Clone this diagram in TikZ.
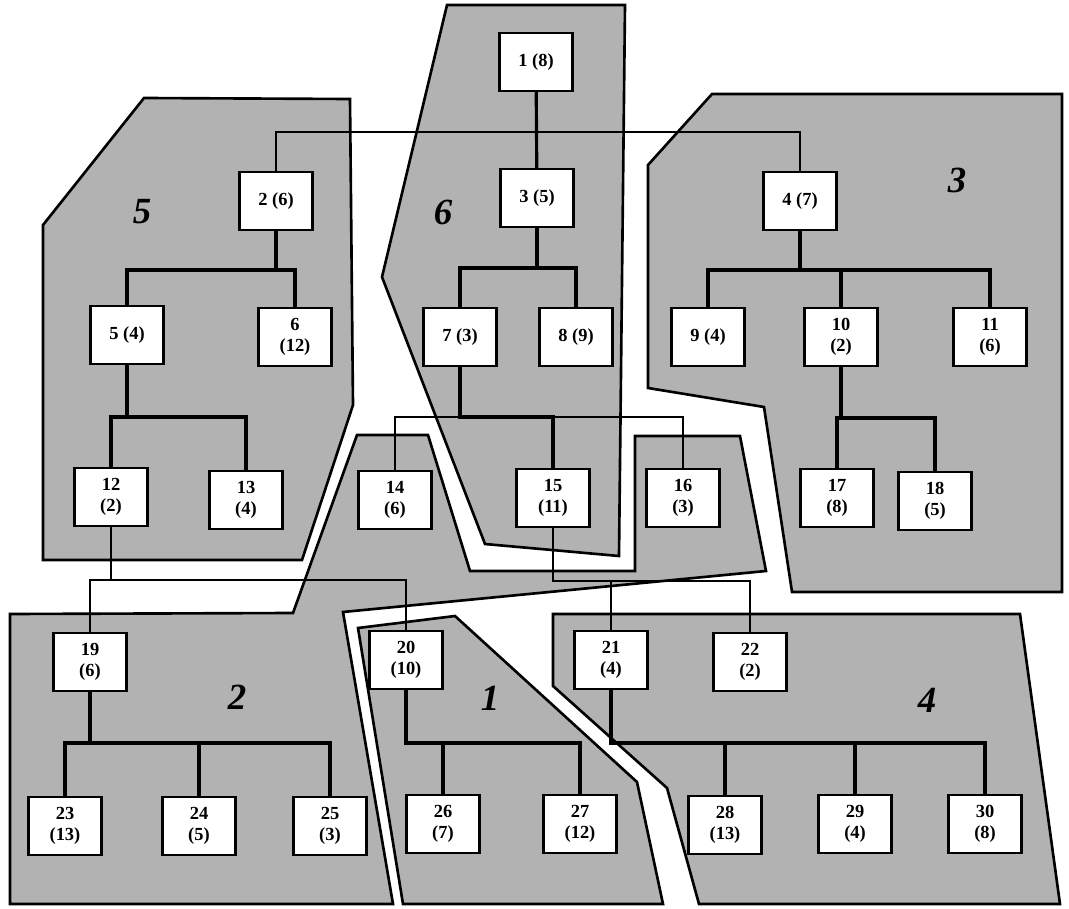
\documentclass[tikz,border=0pt]{standalone}
\usepackage{fontspec}
\setmainfont{Liberation Serif}
\tikzset{
	tnode/.style={draw, line width=1.3pt, fill=white, minimum width=1.46cm, minimum height=1.16cm,
		align=center, inner sep=1pt, font=\fontsize{10.5}{12}\selectfont\bfseries},
	zone/.style={draw, line width=1.5pt, fill=black!30},
	zlabel/.style={font=\fontsize{21}{24}\selectfont\bfseries\itshape},
	tie/.style={line width=1.8pt},
	link/.style={line width=0.7pt},
}
\begin{document}
\begin{tikzpicture}[x=0.02cm, y=-0.02cm]
	\useasboundingbox (0,0) rectangle (1069,909);
	% clusters
	\draw[zone] (144,98) -- (350,99) -- (353,405) -- (302,560) -- (43,560) -- (43,225) -- cycle;
	\draw[zone] (447,5) -- (625,5) -- (619,556) -- (485,544) -- (382,277) -- cycle;
	\draw[zone] (712,94) -- (1062,94) -- (1062,592) -- (792,592) -- (764,407) -- (648,388) -- (648,165) -- cycle;
	\draw[zone] (10,614) -- (293,613) -- (357,435) -- (428,435) -- (470,571) -- (635,571) -- (635,436)
		-- (740,436) -- (766,571) -- (343,612) -- (393,904) -- (10,904) -- cycle;
	\draw[zone] (358,628) -- (455,616) -- (637,782) -- (663,904) -- (403,904) -- cycle;
	\draw[zone] (553,614) -- (1020,614) -- (1060,904) -- (699,904) -- (667,788) -- (553,686) -- cycle;
	\node[zlabel] (z5) at (142,212) {5};
	\node[zlabel] (z6) at (443,212) {6};
	\node[zlabel] (z3) at (957,180) {3};
	\node[zlabel] (z2) at (237,697) {2};
	\node[zlabel] (z1) at (490,698) {1};
	\node[zlabel] (z4) at (927,700) {4};

	% tree nodes
	\node[tnode] (n1) at (536,62) {1 (8)};
	\node[tnode] (n2) at (276,201) {2 (6)};
	\node[tnode] (n3) at (537,198) {3 (5)};
	\node[tnode] (n4) at (800,201) {4 (7)};
	\node[tnode] (n5) at (127,335) {5 (4)};
	\node[tnode] (n6) at (295,337) {6\\(12)};
	\node[tnode] (n7) at (460,337) {7 (3)};
	\node[tnode] (n8) at (576,337) {8 (9)};
	\node[tnode] (n9) at (708,337) {9 (4)};
	\node[tnode] (n10) at (841,337) {10\\(2)};
	\node[tnode] (n11) at (990,337) {11\\(6)};
	\node[tnode] (n12) at (111,497) {12\\(2)};
	\node[tnode] (n13) at (246,500) {13\\(4)};
	\node[tnode] (n14) at (395,500) {14\\(6)};
	\node[tnode] (n15) at (553,498) {15\\(11)};
	\node[tnode] (n16) at (683,498) {16\\(3)};
	\node[tnode] (n17) at (837,498) {17\\(8)};
	\node[tnode] (n18) at (935,501) {18\\(5)};
	\node[tnode] (n19) at (90,662) {19\\(6)};
	\node[tnode] (n20) at (406,660) {20\\(10)};
	\node[tnode] (n21) at (611,660) {21\\(4)};
	\node[tnode] (n22) at (750,662) {22\\(2)};
	\node[tnode] (n23) at (65,826) {23\\(13)};
	\node[tnode] (n24) at (199,826) {24\\(5)};
	\node[tnode] (n25) at (330,826) {25\\(3)};
	\node[tnode] (n26) at (443,824) {26\\(7)};
	\node[tnode] (n27) at (580,824) {27\\(12)};
	\node[tnode] (n28) at (725,825) {28\\(13)};
	\node[tnode] (n29) at (855,824) {29\\(4)};
	\node[tnode] (n30) at (985,824) {30\\(8)};

	% connectors
	\draw[tie] (n1) -- (n3);
	\draw[link] (n2.north) -- (n2.north |- 0,132) -| (n4.north);
	\foreach \a/\b/\y in {n2/n5/270, n2/n6/270, n3/n7/268, n3/n8/268, n4/n9/270, n4/n10/270, n4/n11/270,
		n5/n12/417, n5/n13/417, n7/n15/417, n10/n17/418, n10/n18/418, n19/n23/743, n19/n24/743,
		n19/n25/743, n20/n26/743, n20/n27/743, n21/n28/743, n21/n29/743, n21/n30/743}
		\draw[tie] (\a.south) -- (\a.south |- 0,\y) -| (\b.north);
	\foreach \a/\b/\y in {n7/n14/417, n7/n16/417, n12/n19/580, n12/n20/580, n15/n21/581, n15/n22/581}
		\draw[link] (\a.south) -- (\a.south |- 0,\y) -| (\b.north);
\end{tikzpicture}
\end{document}
